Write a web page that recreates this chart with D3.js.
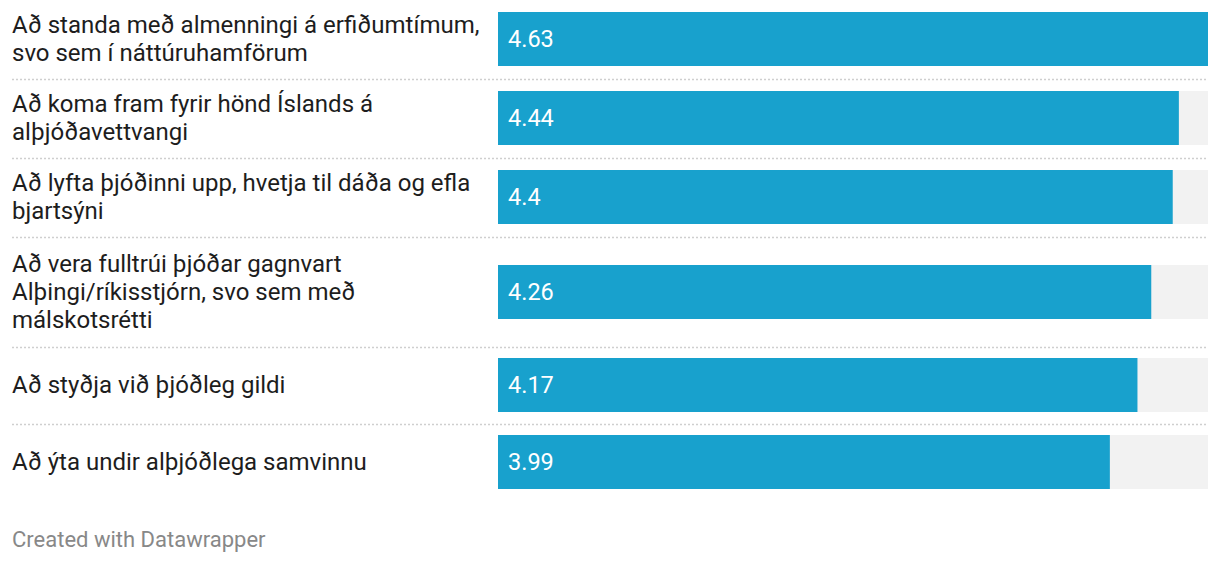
<!DOCTYPE html>
<html><head><meta charset="utf-8">
<script src="https://cdn.jsdelivr.net/npm/d3@7"></script>
<style>
html,body{margin:0;padding:0;background:#fff;}
svg{display:block;font-family:Roboto, "Noto Sans", sans-serif;}
</style></head>
<body>
<svg id="chart" width="1220" height="564"></svg>
<script>
const categories = [
  "Að standa með almenningi á erfiðumtímum, svo sem í náttúruhamförum",
  "Að koma fram fyrir hönd Íslands á alþjóðavettvangi",
  "Að lyfta þjóðinni upp, hvetja til dáða og efla bjartsýni",
  "Að vera fulltrúi þjóðar gagnvart Alþingi/ríkisstjórn, svo sem með málskotsrétti",
  "Að styðja við þjóðleg gildi",
  "Að ýta undir alþjóðlega samvinnu"
];
const values = [4.63, 4.44, 4.4, 4.26, 4.17, 3.99];
const valueLabels = ["4.63", "4.44", "4.4", "4.26", "4.17", "3.99"];
const footer = "Created with Datawrapper";

const svg = d3.select("#chart");
const labelX = 12, labelMaxW = 480, barX0 = 498, barX1 = 1208;
const barH = 54, textLineH = 28, pad = 11.5, fontSize = 24, valSize = 23.5;

const x = d3.scaleLinear().domain([0, d3.max(values)]).range([barX0, barX1]);

// measure-based wrapping
const measurer = svg.append("text").attr("font-size", fontSize).attr("visibility", "hidden");
function wrap(str) {
  const words = str.split(" ");
  const lines = [];
  let cur = "";
  for (const w of words) {
    const test = cur ? cur + " " + w : w;
    measurer.text(test);
    if (measurer.node().getComputedTextLength() > labelMaxW && cur) {
      lines.push(cur); cur = w;
    } else cur = test;
  }
  if (cur) lines.push(cur);
  return lines;
}
const wrapped = categories.map(wrap);
measurer.remove();

// row layout
let yPos = 0;
const rows = wrapped.map((lines, i) => {
  const textH = lines.length * 31 - 6;
  const h = Math.max(barH, textH) + 2 * pad;
  const r = {top: yPos, h, center: yPos + h / 2, lines, v: values[i], lab: valueLabels[i]};
  yPos += h;
  return r;
});

// separators
svg.selectAll("line.sep").data(rows.slice(0, -1)).join("line")
  .attr("class", "sep")
  .attr("x1", labelX).attr("x2", barX1)
  .attr("y1", d => Math.round(d.top + d.h) + 0.5)
  .attr("y2", d => Math.round(d.top + d.h) + 0.5)
  .attr("stroke", "#cfcfcf").attr("stroke-width", 1.5)
  .attr("stroke-dasharray", "2,2");

// background bars
svg.selectAll("rect.bg").data(rows).join("rect")
  .attr("class", "bg")
  .attr("x", x(0)).attr("width", x.range()[1] - x(0))
  .attr("y", d => Math.floor(d.center - barH / 2)).attr("height", barH)
  .attr("fill", "#f2f2f2");

// bars
svg.selectAll("rect.bar").data(rows).join("rect")
  .attr("class", "bar")
  .attr("x", x(0)).attr("width", d => x(d.v) - x(0))
  .attr("y", d => Math.floor(d.center - barH / 2)).attr("height", barH)
  .attr("fill", "#18a1cd");

// value labels
svg.selectAll("text.val").data(rows).join("text")
  .attr("class", "val")
  .attr("x", x(0) + 10).attr("y", d => Math.floor(d.center))
  .attr("dy", "0.35em")
  .attr("font-size", valSize).attr("fill", "#fff")
  .text(d => d.lab);

// category labels
const lg = svg.selectAll("text.lab").data(rows).join("text")
  .attr("class", "lab")
  .attr("font-size", fontSize).attr("fill", "#1d1d1d");
lg.each(function(d) {
  const n = d.lines.length;
  d3.select(this).selectAll("tspan").data(d.lines).join("tspan")
    .attr("x", labelX)
    .attr("y", (l, j) => Math.floor(d.center) + (j - (n - 1) / 2) * textLineH)
    .attr("dy", "0.35em")
    .text(l => l);
});

svg.append("text")
  .attr("x", labelX).attr("y", 547)
  .attr("font-size", 22).attr("fill", "#888")
  .text(footer);
</script>
</body></html>
